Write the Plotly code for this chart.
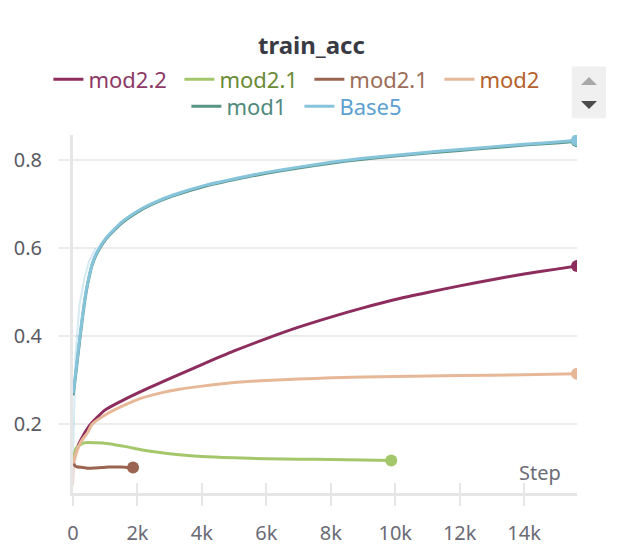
import plotly.graph_objects as go

# ---------------- data ----------------
base5_steps = [0, 31, 240, 394, 497, 600, 755, 1016, 1531, 2050, 2568, 3084, 4121, 5155,
               6000, 7000, 8000, 9000, 10000, 11000, 12000, 13000, 14000, 15000, 15640]
base5_vals = [0.27, 0.285, 0.414, 0.497, 0.535, 0.565, 0.592, 0.622, 0.66, 0.686, 0.705, 0.72,
              0.743, 0.76, 0.772, 0.784, 0.795, 0.804, 0.811, 0.818, 0.824, 0.83, 0.836, 0.841, 0.845]

mod1_steps = base5_steps
mod1_vals = [0.265, 0.28, 0.41, 0.494, 0.533, 0.563, 0.59, 0.62, 0.658, 0.684, 0.703, 0.718,
             0.741, 0.758, 0.77, 0.782, 0.793, 0.802, 0.809, 0.816, 0.822, 0.828, 0.834, 0.839, 0.843]

mod22_steps = [0, 100, 250, 500, 750, 1000, 1500, 2000, 3000, 4000, 5000, 6000, 7000, 8000,
               9000, 10000, 11000, 12000, 13000, 14000, 15000, 15640]
mod22_vals = [0.115, 0.14, 0.165, 0.195, 0.215, 0.232, 0.252, 0.27, 0.303, 0.335, 0.366, 0.394,
              0.42, 0.443, 0.464, 0.483, 0.499, 0.514, 0.528, 0.541, 0.552, 0.559]

mod2_steps = [0, 100, 250, 450, 600, 1100, 1600, 2100, 2700, 3300, 4000, 5000, 6000, 7000,
              8000, 10000, 12000, 14000, 15640]
mod2_vals = [0.11, 0.135, 0.16, 0.18, 0.2, 0.225, 0.243, 0.258, 0.27, 0.279, 0.286, 0.294,
             0.299, 0.302, 0.305, 0.308, 0.31, 0.312, 0.314]

mod21g_steps = [0, 100, 340, 700, 1100, 1600, 2150, 2700, 3300, 4000, 5000, 6000, 7000,
                8000, 9000, 9876]
mod21g_vals = [0.11, 0.145, 0.157, 0.157, 0.155, 0.149, 0.141, 0.135, 0.13, 0.126, 0.123,
               0.121, 0.12, 0.119, 0.118, 0.117]

mod21b_steps = [0, 60, 150, 300, 500, 700, 900, 1100, 1300, 1500, 1700, 1863]
mod21b_vals = [0.115, 0.105, 0.102, 0.101, 0.099, 0.1, 0.101, 0.102, 0.102, 0.102, 0.101, 0.101]

# faint un-smoothed start of runs
raw_base5_steps = [0, 80, 200, 350, 500, 700]
raw_base5_vals = [0.12, 0.36, 0.47, 0.53, 0.57, 0.6]
raw_mod2_steps = [0, 40, 150, 300]
raw_mod2_vals = [0.06, 0.11, 0.14, 0.17]

x_tickvals = [0, 2000, 4000, 6000, 8000, 10000, 12000, 14000]
x_ticktext = ["0", "2k", "4k", "6k", "8k", "10k", "12k", "14k"]
y_tickvals = [0.2, 0.4, 0.6, 0.8]
y_ticktext = ["0.2", "0.4", "0.6", "0.8"]

FONT = "Noto Sans"
series = [
    # name, steps, vals, line colour, text colour
    ("mod2.2", mod22_steps, mod22_vals, "#8c2d5d", "#8e3a66"),
    ("mod2.1", mod21g_steps, mod21g_vals, "#a5c76b", "#6a8a35"),
    ("mod2.1", mod21b_steps, mod21b_vals, "#9a6450", "#9c6d58"),
    ("mod2", mod2_steps, mod2_vals, "#e7b898", "#b5622c"),
    ("mod1", mod1_steps, mod1_vals, "#5a9383", "#4f8a7c"),
    ("Base5", base5_steps, base5_vals, "#86c4dc", "#5c9fd0"),
]
# legend slots (container x of each entry, container y of its row)
legend_x = [0.0783, 0.2903, 0.5006, 0.711, 0.3016, 0.4845]
legend_y = [0.857, 0.857, 0.857, 0.857, 0.808, 0.808]

fig = go.Figure()

fig.add_trace(go.Scatter(x=raw_base5_steps, y=raw_base5_vals, mode="lines",
                         line=dict(color="rgba(134,196,220,0.35)", width=2),
                         showlegend=False, hoverinfo="skip"))
fig.add_trace(go.Scatter(x=raw_mod2_steps, y=raw_mod2_vals, mode="lines",
                         line=dict(color="rgba(200,150,140,0.35)", width=2),
                         showlegend=False, hoverinfo="skip"))

legends = {}
for i, (name, xs, ys, col, tcol) in enumerate(series):
    lg = "legend" if i == 0 else f"legend{i + 1}"
    legends[lg] = dict(orientation="h", xref="container", yref="container",
                       x=legend_x[i], xanchor="left", y=legend_y[i], yanchor="middle",
                       font=dict(family=FONT, size=22), itemwidth=30,
                       bgcolor="rgba(0,0,0,0)")
    fig.add_trace(go.Scatter(
        x=xs, y=ys, mode="lines",
        line=dict(color=col, width=3, shape="spline", smoothing=0.6),
        name=f"<span style='color:{tcol}'>{name}</span>",
        legend=lg,
    ))
    fig.add_trace(go.Scatter(
        x=[xs[-1]], y=[ys[-1]], mode="markers",
        marker=dict(color=col, size=12),
        showlegend=False, hoverinfo="skip",
    ))

fig.update_layout(**legends)
fig.update_layout(
    width=618, height=555,
    margin=dict(l=73, r=41, t=135, b=62, autoexpand=False),
    paper_bgcolor="white", plot_bgcolor="white",
    font=dict(family=FONT, color="#6b6b76", size=20),
    title=dict(text="<b>train_acc</b>", xref="container", yref="container",
               x=0.504, xanchor="center", y=0.918, yanchor="middle",
               font=dict(family=FONT, size=24, color="#3a3a44")),
    xaxis=dict(range=[0, 15640], tickvals=x_tickvals, ticktext=x_ticktext,
               showgrid=False, zeroline=False, showline=True, linecolor="#e6e6e6",
               linewidth=3, ticks="outside", ticklen=10, tickwidth=2, tickcolor="#e6e6e6",
               tickfont=dict(size=20, color="#6b6b76"), ticklabelstandoff=10,
               automargin=False),
    xaxis2=dict(range=[0, 15640], overlaying="x", matches="x", tickvals=x_tickvals,
                showticklabels=False, showgrid=False, zeroline=False, showline=False,
                ticks="inside", ticklen=10, tickwidth=2, tickcolor="#e6e6e6"),
    yaxis=dict(range=[0.043, 0.857], tickvals=y_tickvals, ticktext=y_ticktext,
               showgrid=True, gridcolor="#ececec", gridwidth=1.5, zeroline=False,
               showline=True, linecolor="#e6e6e6", linewidth=3,
               ticks="outside", ticklen=12, tickwidth=1.5, tickcolor="#ececec",
               tickfont=dict(size=20, color="#5a5a64"), ticklabelstandoff=12,
               automargin=False),
    showlegend=True,
)

# dummy trace to activate xaxis2 ticks
fig.add_trace(go.Scatter(x=[0], y=[None], xaxis="x2", showlegend=False, hoverinfo="skip"))

fig.add_annotation(text="Step", xref="paper", yref="paper", x=0.972, y=0.014,
                   xanchor="right", yanchor="bottom", showarrow=False,
                   font=dict(family=FONT, size=20, color="#6b6b76"))

# legend scroll box
fig.add_shape(type="rect", xref="paper", yref="paper", x0=0.9895, x1=1.0575, y0=1.0467, y1=1.191,
              fillcolor="#f0f0f0", line=dict(width=0), layer="below")
fig.add_shape(type="path", xref="paper", yref="paper", xsizemode="pixel", ysizemode="pixel",
              xanchor=1.0238, yanchor=1.151, path="M -8,-4 L 8,-4 L 0,4 Z",
              fillcolor="#a8a8a8", line=dict(width=0))
fig.add_shape(type="path", xref="paper", yref="paper", xsizemode="pixel", ysizemode="pixel",
              xanchor=1.0238, yanchor=1.084, path="M -8,4 L 8,4 L 0,-4 Z",
              fillcolor="#4a4a4a", line=dict(width=0))

fig.write_html("out.html", config={"displayModeBar": False},
               post_script="document.body.style.margin='0';")
